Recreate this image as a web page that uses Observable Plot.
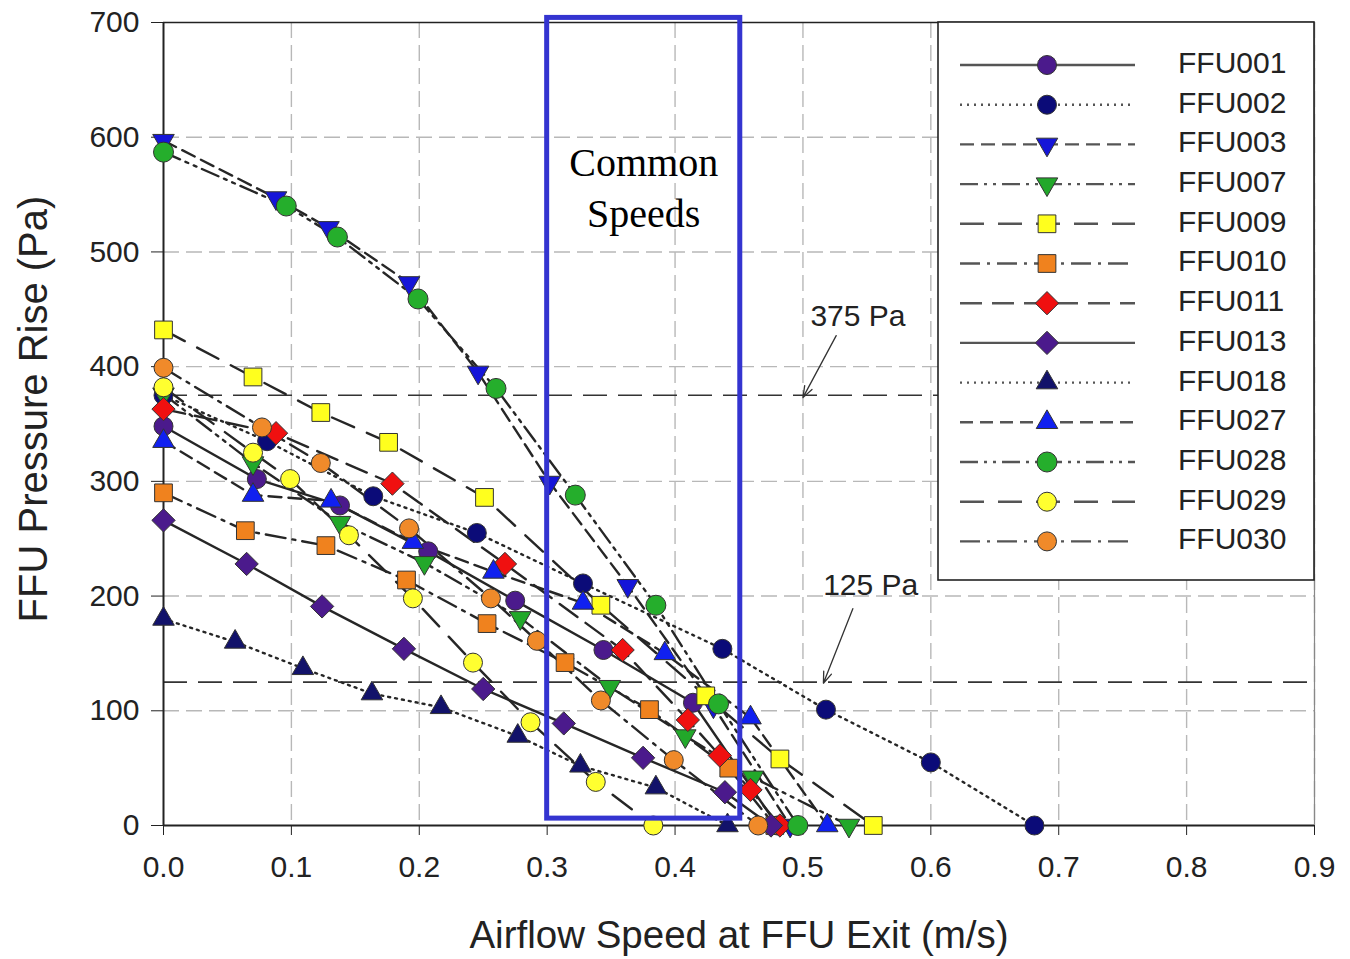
<!DOCTYPE html>
<html>
<head>
<meta charset="utf-8">
<script src="https://cdn.jsdelivr.net/npm/d3@7"></script>
<script src="https://cdn.jsdelivr.net/npm/@observablehq/plot@0.6"></script>
<style>
  html, body { margin: 0; padding: 0; background: #fff; }
  #chart { width: 1350px; height: 959px; }
</style>
</head>
<body>
<div id="chart"></div>
<script>
// ---------- data ----------
const xTicks = [0, 0.1, 0.2, 0.3, 0.4, 0.5, 0.6, 0.7, 0.8, 0.9];
const yTicks = [0, 100, 200, 300, 400, 500, 600, 700];

const seriesNames = ["FFU001","FFU002","FFU003","FFU007","FFU009","FFU010","FFU011","FFU013","FFU018","FFU027","FFU028","FFU029","FFU030"];

const FFU001 = [[0,348],[0.073,302],[0.138,279],[0.207,239],[0.275,196],[0.344,153],[0.414,107],[0.48,0]];
const FFU002 = [[0,375],[0.081,335],[0.164,287],[0.245,255],[0.328,211],[0.437,154],[0.518,101],[0.6,55],[0.681,0]];
const FFU003 = [[0,597],[0.088,547],[0.129,521],[0.192,473],[0.246,395],[0.302,299],[0.363,209],[0.43,104],[0.49,0]];
const FFU007 = [[0,376],[0.07,316],[0.138,264],[0.204,229],[0.279,181],[0.349,121],[0.408,78],[0.461,42],[0.536,0]];
const FFU009 = [[0,432],[0.07,391],[0.123,360],[0.176,334],[0.251,286],[0.342,192],[0.424,113],[0.482,58],[0.555,0]];
const FFU010 = [[0,290],[0.064,257],[0.127,244],[0.19,214],[0.253,176],[0.314,142],[0.38,101],[0.442,50],[0.478,0]];
const FFU011 = [[0,363],[0.088,342],[0.179,298],[0.267,228],[0.359,153],[0.41,92],[0.435,61],[0.459,31],[0.482,0]];
const FFU013 = [[0,266],[0.065,228],[0.124,191],[0.188,154],[0.25,119],[0.313,89],[0.375,59],[0.439,29],[0.475,0]];
const FFU018 = [[0,180],[0.056,160],[0.109,137],[0.163,115],[0.217,103],[0.277,78],[0.326,52],[0.385,33],[0.441,0]];
const FFU027 = [[0,335],[0.07,288],[0.131,283],[0.195,247],[0.258,221],[0.328,194],[0.392,150],[0.459,94],[0.519,0]];
const FFU028 = [[0,587],[0.096,540],[0.136,513],[0.199,459],[0.26,381],[0.322,288],[0.385,192],[0.434,106],[0.496,0]];
const FFU029 = [[0,382],[0.07,325],[0.099,302],[0.145,253],[0.195,198],[0.242,142],[0.287,90],[0.338,38],[0.383,0]];
const FFU030 = [[0,399],[0.077,347],[0.123,316],[0.192,259],[0.256,198],[0.292,161],[0.342,109],[0.399,57],[0.465,0]];

const seriesValues = [FFU001,FFU002,FFU003,FFU007,FFU009,FFU010,FFU011,FFU013,FFU018,FFU027,FFU028,FFU029,FFU030];

const referenceLines = [375, 125];
const referenceLabels = [
  {label: "375 Pa", x: 0.543, y: 444, ax1: 0.526, ay1: 427, ax2: 0.5, ay2: 373},
  {label: "125 Pa", x: 0.553, y: 209, ax1: 0.539, ay1: 189, ax2: 0.516, ay2: 124}
];
const commonSpeeds = {x1: 0.3, x2: 0.451, y1: 6, y2: 704, label: "Common\nSpeeds"};

// ---------- styles ----------
const sqrt3 = Math.sqrt(3);
const triangleDown = {
  draw(context, size) {
    const y = -Math.sqrt(size / (sqrt3 * 3));
    context.moveTo(0, -y * 2);
    context.lineTo(-sqrt3 * y, y);
    context.lineTo(sqrt3 * y, y);
    context.closePath();
  }
};
const symbolTypes = {
  circle: d3.symbolCircle, square: d3.symbolSquare, diamond2: d3.symbolDiamond2,
  triangle: d3.symbolTriangle, triangleDown: triangleDown
};
const seriesSymbols = ["circle","circle","triangleDown","triangleDown","square","square","diamond2","diamond2","triangle","triangle","circle","circle","circle"];
const seriesColors = ["#4b1a8c","#0b0b78","#1515d8","#22a82a","#ffff1e","#f0821e","#f01010","#4b1a8c","#12126a","#1020f0","#25ae2c","#ffff30","#f08a2a"];
const seriesDash = ["none","2,5","14,7","18,6,3,6,3,6","24,14","20,7,3,7","22,10","none","2,5","13,7","18,6,3,6,3,6","24,14","20,7,3,7"];
const seriesR = [9.5,9.5,8,8,10,10,10.5,10.5,8,8,10,9.5,9.5];

const rows = seriesNames.map((name, i) => seriesValues[i].map(([x, y]) => ({name, x, y})));

const font = "'Liberation Sans', Arial, Helvetica, sans-serif";

const marks = [
  Plot.ruleX(xTicks.slice(1), {stroke: "#b8b8b8", strokeWidth: 1.4, strokeDasharray: "16,7"}),
  Plot.ruleY(yTicks.slice(1, -1), {stroke: "#b8b8b8", strokeWidth: 1.4, strokeDasharray: "16,7"}),
  Plot.ruleY(referenceLines, {stroke: "#333", strokeWidth: 1.6, strokeDasharray: "24,11"}),
  Plot.ruleY([700], {stroke: "#222", strokeWidth: 1.5}),
  Plot.ruleX([0.9], {stroke: "#888", strokeWidth: 1.2}),
  Plot.ruleX([0], {stroke: "#222", strokeWidth: 2}),
  Plot.ruleY([0], {stroke: "#222", strokeWidth: 2}),
  Plot.axisX(xTicks, {tickSize: 10, tickPadding: 20, fontSize: 30, tickFormat: d => d.toFixed(1), label: null, stroke: "#222"}),
  Plot.axisY(yTicks, {tickSize: 12, tickPadding: 12, fontSize: 30, label: null, stroke: "#222"})
];

rows.forEach((data, i) => {
  marks.push(Plot.line(data, {x: "x", y: "y", stroke: "#262626", strokeWidth: 2.4, strokeDasharray: seriesDash[i]}));
});
rows.forEach((data, i) => {
  const sym = seriesSymbols[i] === "triangleDown" ? triangleDown : seriesSymbols[i];
  marks.push(Plot.dot(data, {x: "x", y: "y", symbol: sym, r: seriesR[i], fill: seriesColors[i], stroke: "#333", strokeWidth: 1}));
});

marks.push(
  Plot.arrow(referenceLabels, {x1: "ax1", y1: "ay1", x2: "ax2", y2: "ay2", stroke: "#333", strokeWidth: 1.3, headLength: 14, headAngle: 40}),
  Plot.text(referenceLabels, {x: "x", y: "y", text: "label", fontSize: 30, fill: "#222", textAnchor: "middle"}),
  Plot.rect([commonSpeeds], {x1: "x1", x2: "x2", y1: "y1", y2: "y2", fill: "none", stroke: "#3434d0", strokeWidth: 5}),
  Plot.text([commonSpeeds], {x: d => (d.x1 + d.x2) / 2, y: 558, text: "label", fontSize: 40, lineHeight: 1.28, fontFamily: "'Liberation Serif', 'Times New Roman', serif", fill: "#000"})
);

const chart = Plot.plot({
  width: 1350,
  height: 959,
  marginLeft: 163,
  marginRight: 36,
  marginTop: 22,
  marginBottom: 134,
  x: {domain: [0, 0.9]},
  y: {domain: [0, 700]},
  style: {fontFamily: font, background: "#fff", color: "#222", overflow: "visible"},
  marks
});

// ---------- axis titles + legend (inside the same SVG) ----------
const svg = d3.select(chart);
svg.append("text")
  .attr("x", 739).attr("y", 938)
  .attr("text-anchor", "middle").attr("dominant-baseline", "middle")
  .attr("font-family", font).attr("font-size", 38.5).attr("fill", "#222")
  .text("Airflow Speed at FFU Exit (m/s)");
svg.append("text")
  .attr("transform", "translate(36,409) rotate(-90)")
  .attr("text-anchor", "middle").attr("dominant-baseline", "middle")
  .attr("font-family", font).attr("font-size", 40).attr("fill", "#222")
  .text("FFU Pressure Rise (Pa)");

const lg = svg.append("g");
lg.append("rect").attr("x", 938).attr("y", 22).attr("width", 376).attr("height", 558)
  .attr("fill", "#fff").attr("stroke", "#222").attr("stroke-width", 1.6);
seriesNames.forEach((name, i) => {
  const y = 65 + i * 39.7;
  lg.append("line").attr("x1", 960).attr("x2", 1135).attr("y1", y).attr("y2", y)
    .attr("stroke", "#555").attr("stroke-width", 2.4)
    .attr("stroke-dasharray", seriesDash[i] === "none" ? null : seriesDash[i]);
  const r = seriesR[i];
  lg.append("path")
    .attr("d", d3.symbol(symbolTypes[seriesSymbols[i]], r * r * Math.PI)())
    .attr("transform", `translate(1047,${y})`)
    .attr("fill", seriesColors[i]).attr("stroke", "#333").attr("stroke-width", 1);
  lg.append("text").attr("x", 1178).attr("y", y)
    .attr("text-anchor", "start")
    .attr("dominant-baseline", "middle")
    .attr("font-family", font).attr("font-size", 30).attr("fill", "#222")
    .text(name);
});

document.getElementById("chart").appendChild(chart);
</script>
</body>
</html>
